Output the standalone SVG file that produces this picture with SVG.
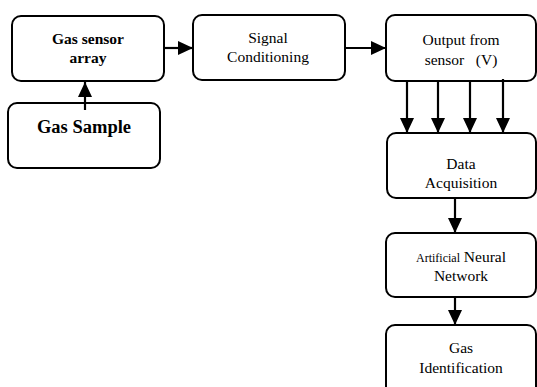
<svg xmlns="http://www.w3.org/2000/svg" width="537" height="387" viewBox="0 0 537 387">
<style>
.box{fill:#fff;stroke:#000;stroke-width:2}
text{font-family:'Liberation Serif','Times New Roman',Times,serif;font-size:15.5px;fill:#000;text-anchor:middle}
.b{font-weight:bold}
.c{stroke:#000;stroke-width:2.2;fill:none;marker-end:url(#ah)}
</style>
<defs>
<marker id="ah" markerUnits="userSpaceOnUse" markerWidth="15" markerHeight="14" refX="15" refY="7" orient="auto" viewBox="0 0 15 14">
<path d="M0,0 L15,7 L0,14 z" fill="#000"/>
</marker>
</defs>
<g id="gas-sensor-array">
<rect class="box" x="12" y="16" width="152" height="65" rx="9"/>
<text class="b" x="88" y="44">Gas sensor</text>
<text class="b" x="88" y="63">array</text>
</g>
<g id="gas-sample">
<rect class="box" x="8" y="103" width="152" height="65" rx="9"/>
<text class="b" x="84" y="133" style="font-size:18.5px">Gas Sample</text>
</g>
<g id="signal-conditioning">
<rect class="box" x="193" y="15" width="152" height="65" rx="9"/>
<text x="268" y="43">Signal</text>
<text x="268" y="62">Conditioning</text>
</g>
<g id="output-from-sensor">
<rect class="box" x="386" y="15" width="150" height="66" rx="9"/>
<text x="461" y="45">Output from</text>
<text x="461" y="65" xml:space="preserve">sensor   (V)</text>
</g>
<g id="data-acquisition">
<rect class="box" x="387" y="133" width="149" height="65" rx="9"/>
<text x="461" y="169">Data</text>
<text x="461" y="188">Acquisition</text>
</g>
<g id="ann">
<rect class="box" x="386" y="233" width="150" height="64" rx="9"/>
<text x="461" y="262"><tspan style="font-size:12px">Artificial</tspan> Neural</text>
<text x="461" y="281">Network</text>
</g>
<g id="gas-identification">
<rect class="box" x="386" y="325" width="150" height="80" rx="9"/>
<text x="461" y="353">Gas</text>
<text x="461" y="373">Identification</text>
</g>
<g id="connectors">
<path class="c" d="M85,110 L85,82"/>
<path class="c" d="M164,48 L193,48"/>
<path class="c" d="M345,48 L386,48"/>
<path class="c" d="M407,81 L407,133"/>
<path class="c" d="M438,81 L438,133"/>
<path class="c" d="M470,81 L470,133"/>
<path class="c" d="M503,79 L503,133"/>
<path class="c" d="M455,198 L455,233"/>
<path class="c" d="M455,297 L455,325"/>
</g>
</svg>
